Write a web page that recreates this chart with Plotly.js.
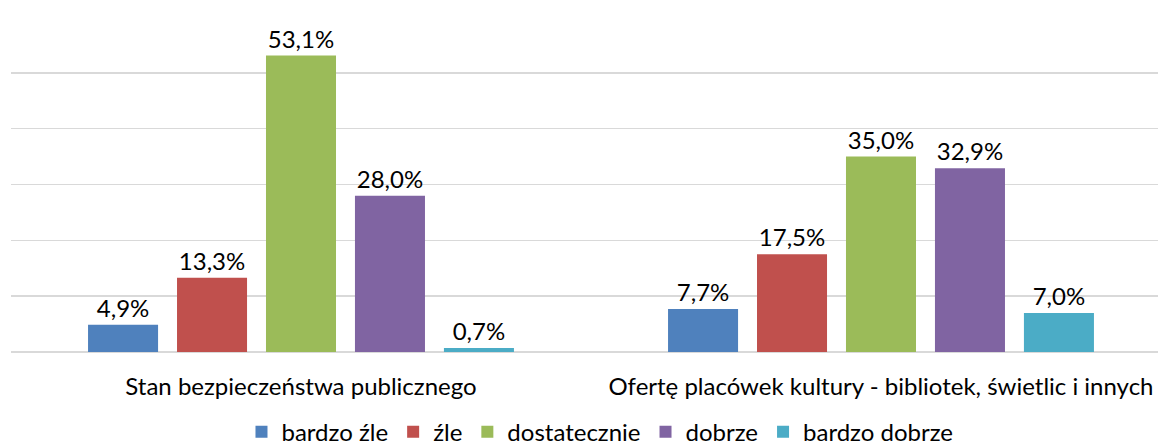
<!DOCTYPE html>
<html>
<head>
<meta charset="utf-8">
<script src="https://cdn.plot.ly/plotly-3.0.1.min.js"></script>
<style>
  html, body { margin: 0; padding: 0; background: #fff; overflow: hidden; }
  #chart { width: 1158px; height: 447px; }
</style>
</head>
<body>
<div id="chart"></div>
<script>
// categories and series
const categories = [
  "Stan bezpieczeństwa publicznego",
  "Ofertę placówek kultury - bibliotek, świetlic i innych"
];
const seriesNames = ["bardzo źle", "źle", "dostatecznie", "dobrze", "bardzo dobrze"];
const seriesColors = ["#4F81BD", "#C0504D", "#9BBB59", "#8064A2", "#4BACC6"];

const bardzoZle = [4.9, 7.7];
const zle = [13.3, 17.5];
const dostatecznie = [53.1, 35.0];
const dobrze = [28.0, 32.9];
const bardzoDobrze = [0.7, 7.0];

const values = [bardzoZle, zle, dostatecznie, dobrze, bardzoDobrze];

const font = "Lato, 'Open Sans', sans-serif";

const data = seriesNames.map((name, i) => ({
  type: "bar",
  name: name,
  x: categories,
  y: values[i],
  marker: { color: seriesColors[i] },
  texttemplate: "%{y:.1f}%",
  textposition: "outside",
  textfont: { family: font, size: 24, color: "#000" },
  cliponaxis: false,
  hoverinfo: "none"
}));

const layout = {
  width: 1158,
  height: 447,
  separators: ", ",
  font: { family: font, size: 24, color: "#000" },
  margin: { l: 11, r: 0, t: 17, b: 95, pad: 0, autoexpand: false },
  paper_bgcolor: "#fff",
  plot_bgcolor: "#fff",
  barmode: "group",
  bargap: 0.233,
  bargroupgap: 0.213,
  xaxis: {
    range: [-0.5, 1.4776],
    showgrid: false,
    showline: false,
    ticks: "",
    automargin: false,
    ticklabelstandoff: 18,
    tickfont: { family: font, size: 24, color: "#000" }
  },
  yaxis: {
    range: [0, 60],
    dtick: 10,
    showticklabels: false,
    automargin: false,
    gridcolor: "#D9D9D9",
    gridwidth: 1.5,
    zeroline: true,
    zerolinecolor: "#D9D9D9",
    zerolinewidth: 1.5,
    fixedrange: true
  },
  showlegend: true,
  legend: {
    orientation: "h",
    x: 0.5135,
    xanchor: "center",
    yref: "container",
    y: 0.033,
    yanchor: "middle",
    font: { family: font, size: 24, color: "#000" },
    traceorder: "normal"
  }
};

Plotly.newPlot("chart", data, layout, { staticPlot: true });
</script>
</body>
</html>
